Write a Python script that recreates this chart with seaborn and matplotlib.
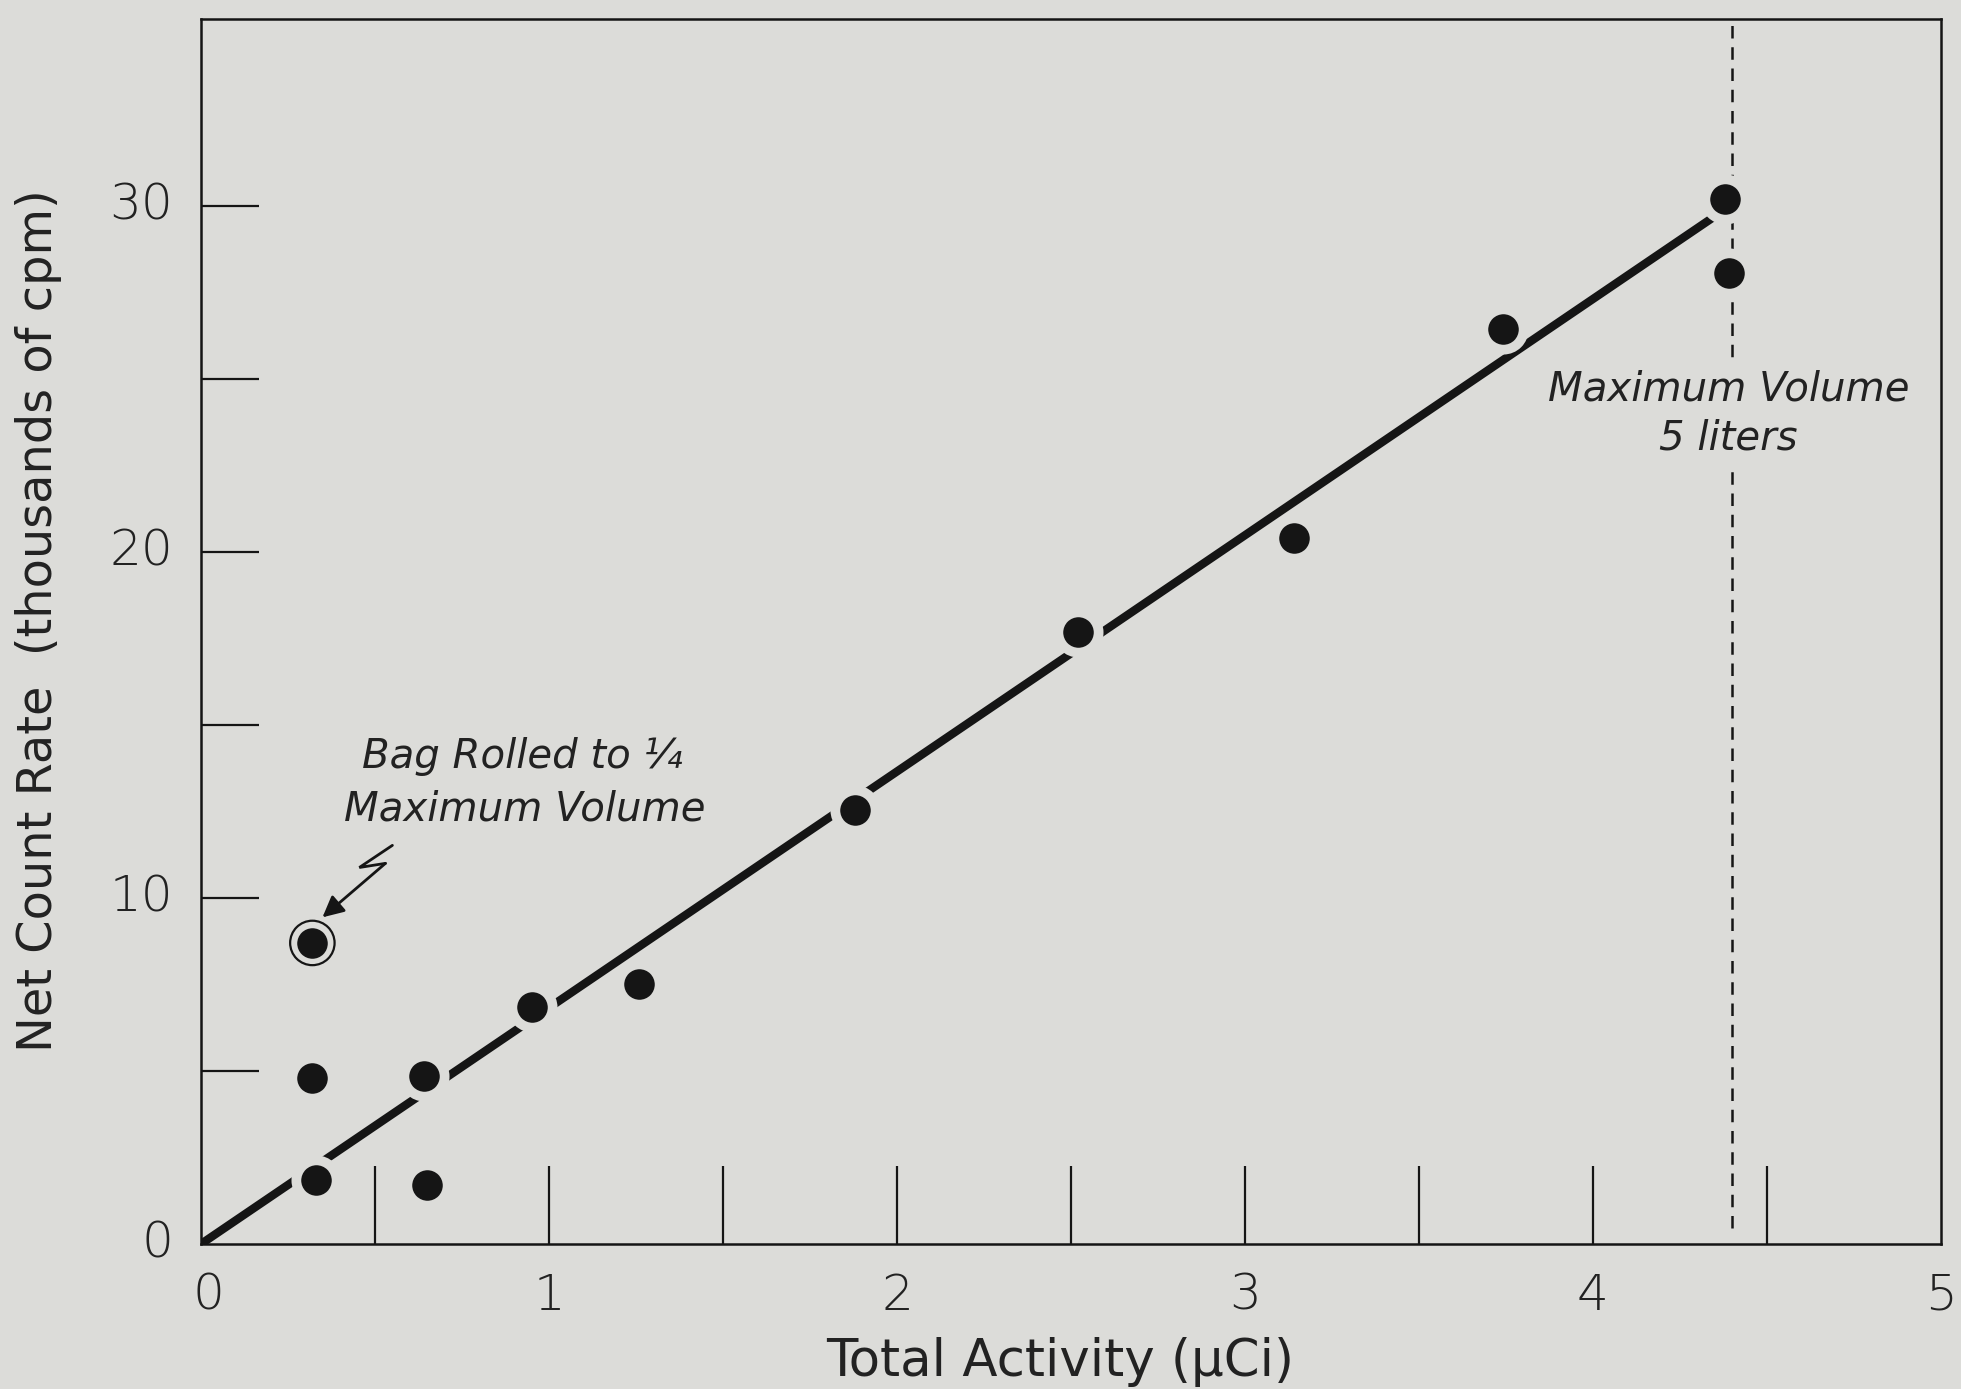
import matplotlib
matplotlib.use("Agg")
import matplotlib.pyplot as plt
import seaborn as sns
import pandas as pd

# ---------------- data ----------------
activity_uci = [0.32, 0.32, 0.33, 0.64, 0.65, 0.95, 1.26, 1.88, 2.52, 3.14, 3.74, 4.38, 4.39]
net_rate_kcpm = [8.7, 4.8, 1.85, 4.85, 1.7, 6.85, 7.5, 12.55, 17.7, 20.4, 26.45, 30.2, 28.05]
circled_index = [0]                     # bag rolled to 1/4 maximum volume
fit_x = [0.0, 4.35]
fit_y = [0.0, 29.7]
max_volume_x = 4.40
x_ticks_labeled = [0, 1, 2, 3, 4, 5]
x_ticks_all = [0.5, 1.0, 1.5, 2.0, 2.5, 3.0, 3.5, 4.0, 4.5]
y_ticks_labeled = [0, 10, 20, 30]
y_ticks_all = [5, 10, 15, 20, 25, 30]

BG = "#dcdcd9"
INK = "#151515"
TXT = "#222222"

sns.set_theme(style="ticks")
plt.rcParams["font.family"] = ["DejaVu Sans"]

fig = plt.figure(figsize=(19.61, 13.89), dpi=100)
fig.patch.set_facecolor(BG)
ax = fig.add_axes([0.1025, 0.1044, 0.8873, 0.8819])
ax.set_facecolor(BG)

df = pd.DataFrame({"x": activity_uci, "y": net_rate_kcpm})
fit = pd.DataFrame({"x": fit_x, "y": fit_y})

# dashed line for maximum volume
ax.axvline(max_volume_x, ymin=0.013, ymax=1.0, color=INK, lw=1.8,
           linestyle=(0, (5, 3.5)), zorder=1)

# fitted line
sns.lineplot(data=fit, x="x", y="y", color=INK, lw=6.0, ax=ax, zorder=2,
             solid_capstyle="butt")

# data points (background-coloured edge gives the gaps in the line)
sns.scatterplot(data=df, x="x", y="y", s=29**2, color=INK, edgecolor=BG,
                linewidth=7.0, ax=ax, zorder=3, legend=False)

# ring round the special point
circ = df.iloc[circled_index]
sns.scatterplot(data=circ, x="x", y="y", s=32**2, facecolor="none",
                edgecolor=INK, linewidth=1.6, ax=ax, zorder=4, legend=False)

ax.set_xlim(0, 5)
ax.set_ylim(0, 35.4)

# ticks
ax.set_xticks(x_ticks_all)
ax.set_xticklabels([])
ax.set_yticks(y_ticks_all)
ax.set_yticklabels([])
ax.tick_params(axis="x", direction="in", length=56, width=1.6, color=INK,
               bottom=True, top=False, labelbottom=False)
ax.tick_params(axis="y", direction="in", length=42, width=1.6, color=INK,
               left=True, right=False, labelleft=False)

# tick labels as text to place them like the original
for v in x_ticks_labeled:
    ax.text(v + (0.02 if v == 0 else 0), -0.8, str(v), ha="center", va="top",
            fontsize=36, color=TXT, fontweight="light")
for v in y_ticks_labeled:
    ax.text(-0.08, v, str(v), ha="right", va="center",
            fontsize=36, color=TXT, fontweight="light")

for s in ax.spines.values():
    s.set_color(INK)
    s.set_linewidth(1.8)

ax.set_xlabel("Total Activity (μCi)", fontsize=37, color=TXT)
ax.xaxis.set_label_coords(0.4935, -0.076)
ax.set_ylabel("Net Count Rate  (thousands of cpm)", fontsize=34.5, color=TXT)
ax.yaxis.set_label_coords(-0.080, 0.509)

# annotations
ax.text(0.464, 14.1, "Bag Rolled to ¼", ha="left", va="center",
        fontsize=29, style="italic", color=TXT)
ax.text(0.41, 12.56, "Maximum Volume", ha="left", va="center",
        fontsize=29, style="italic", color=TXT)
ax.text(4.39, 24.0, "Maximum Volume\n5 liters", ha="center", va="center",
        fontsize=29, style="italic", color=TXT, linespacing=1.35,
        bbox=dict(facecolor=BG, edgecolor="none", pad=4))

# lightning-bolt arrow
bolt_x = [0.550, 0.455, 0.530]
bolt_y = [11.52, 10.88, 11.0]
ax.plot(bolt_x, bolt_y, color=INK, lw=2.0, zorder=4, solid_joinstyle="miter")
ax.annotate("", xy=(0.349, 9.44), xytext=(0.530, 11.0),
            arrowprops=dict(arrowstyle="-|>", color=INK, lw=2.0,
                            mutation_scale=32, shrinkA=0, shrinkB=0),
            zorder=4)

fig.savefig("out.png", dpi=100, facecolor=BG)
